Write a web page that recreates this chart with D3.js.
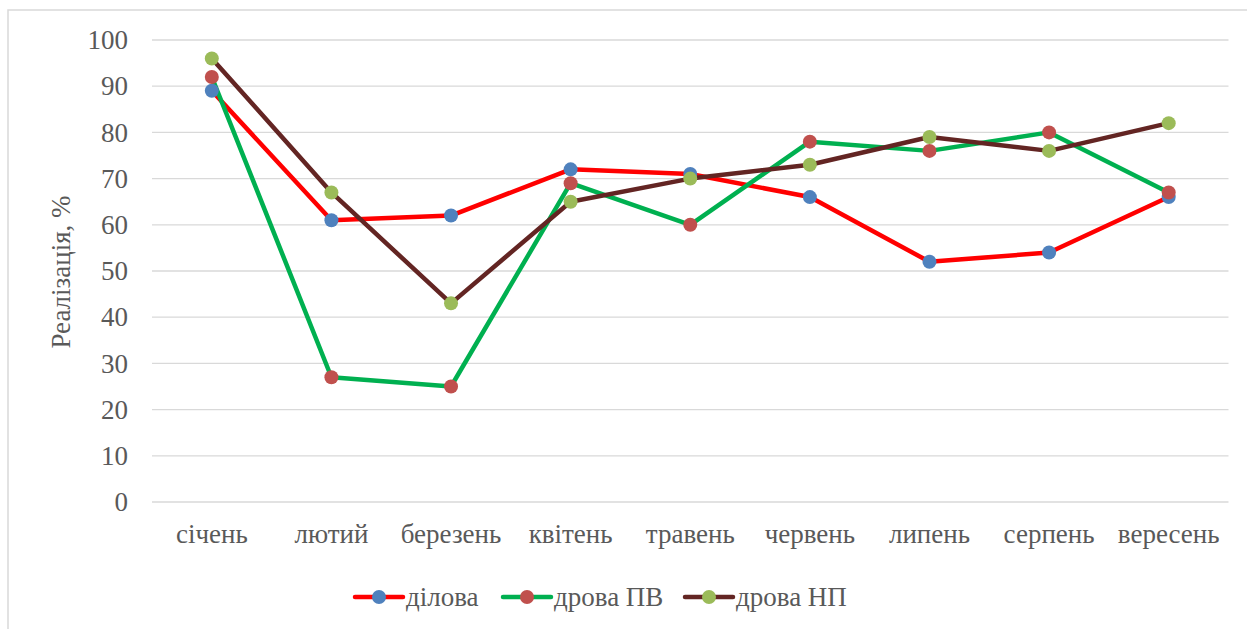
<!DOCTYPE html>
<html>
<head>
<meta charset="utf-8">
<script src="https://cdn.jsdelivr.net/npm/d3@7"></script>
</head>
<body style="margin:0;background:#fff">
<div class="chart"></div>
<script>
// місяці
var categories = ["січень", "лютий", "березень", "квітень", "травень", "червень", "липень", "серпень", "вересень"];
var yTicks = [0, 10, 20, 30, 40, 50, 60, 70, 80, 90, 100];
var seriesNames = ["ділова", "дрова ПВ", "дрова НП"];
var dilova  = [89, 61, 62, 72, 71, 66, 52, 54, 66];
var drovaPV = [92, 27, 25, 69, 60, 78, 76, 80, 67];
var drovaNP = [96, 67, 43, 65, 70, 73, 79, 76, 82];

var lineColors = ["#ff0000", "#00b050", "#632523"];
var markerColors = ["#4f81bd", "#c0504d", "#9bbb59"];

var width = 1247, height = 629;
var plot = { left: 152, right: 1228.5, top: 40, bottom: 502 };
var font = "Times New Roman";
var fontSize = 27;
var textColor = "#595959";

var svg = d3.select(".chart").append("svg")
    .attr("width", width)
    .attr("height", height)
    .style("display", "block")
    .style("font-family", font);

// chart border
svg.append("rect")
    .attr("x", 8).attr("y", 10)
    .attr("width", width + 20).attr("height", height + 20)
    .attr("fill", "#fff")
    .attr("stroke", "#d9d9d9")
    .attr("stroke-width", 1.5);

var x = d3.scaleBand().domain(categories).range([plot.left, plot.right]);
var y = d3.scaleLinear().domain([0, 100]).range([plot.bottom, plot.top]);
var cx = function (i) { return x(categories[i]) + x.bandwidth() / 2; };

var styleText = function (sel) {
    sel.style("font-family", font)
        .attr("font-size", fontSize)
        .attr("fill", textColor);
};

// gridlines
svg.append("g").selectAll("line")
    .data(yTicks)
    .enter()
    .append("line")
    .attr("x1", plot.left).attr("x2", plot.right)
    .attr("y1", function (d) { return y(d); })
    .attr("y2", function (d) { return y(d); })
    .attr("stroke", "#d9d9d9")
    .attr("stroke-width", 1.3);

// y axis labels
var yAxis = d3.axisLeft(y).tickValues(yTicks).tickSize(0).tickPadding(24);
var gy = svg.append("g").attr("transform", "translate(" + plot.left + ",0)").call(yAxis);
gy.select(".domain").remove();
gy.attr("font-family", null).attr("font-size", fontSize);
gy.selectAll("text").call(styleText);

// x axis labels
var xAxis = d3.axisBottom(x).tickSize(0).tickPadding(22);
var gx = svg.append("g").attr("transform", "translate(0," + plot.bottom + ")").call(xAxis);
gx.select(".domain").remove();
gx.attr("font-family", null).attr("font-size", fontSize);
gx.selectAll("text").call(styleText);

// y title
svg.append("text")
    .attr("transform", "translate(70,272) rotate(-90)")
    .attr("text-anchor", "middle")
    .call(styleText)
    .text("Реалізація, %");

var allSeries = [dilova, drovaPV, drovaNP];

var line = d3.line()
    .x(function (d, i) { return cx(i); })
    .y(function (d) { return y(d); });

allSeries.forEach(function (vals, s) {
    svg.append("path")
        .datum(vals)
        .attr("d", line)
        .attr("fill", "none")
        .attr("stroke", lineColors[s])
        .attr("stroke-width", 4.5)
        .attr("stroke-linejoin", "round");
});

allSeries.forEach(function (vals, s) {
    svg.append("g").selectAll("circle")
        .data(vals)
        .enter()
        .append("circle")
        .attr("cx", function (d, i) { return cx(i); })
        .attr("cy", function (d) { return y(d); })
        .attr("r", 7)
        .attr("fill", markerColors[s]);
});

// legend
var legendX = [355, 503, 685];
var legendY = 597;
var leg = svg.append("g").selectAll("g")
    .data(seriesNames)
    .enter()
    .append("g")
    .attr("transform", function (d, i) { return "translate(" + legendX[i] + "," + legendY + ")"; });
leg.append("line")
    .attr("x1", 0).attr("x2", 48)
    .attr("stroke", function (d, i) { return lineColors[i]; })
    .attr("stroke-width", 4.5)
    .attr("stroke-linecap", "round");
leg.append("circle")
    .attr("cx", 24).attr("r", 7)
    .attr("fill", function (d, i) { return markerColors[i]; });
leg.append("text")
    .attr("x", 51).attr("dy", "0.33em")
    .call(styleText)
    .text(function (d) { return d; });
</script>
</body>
</html>
